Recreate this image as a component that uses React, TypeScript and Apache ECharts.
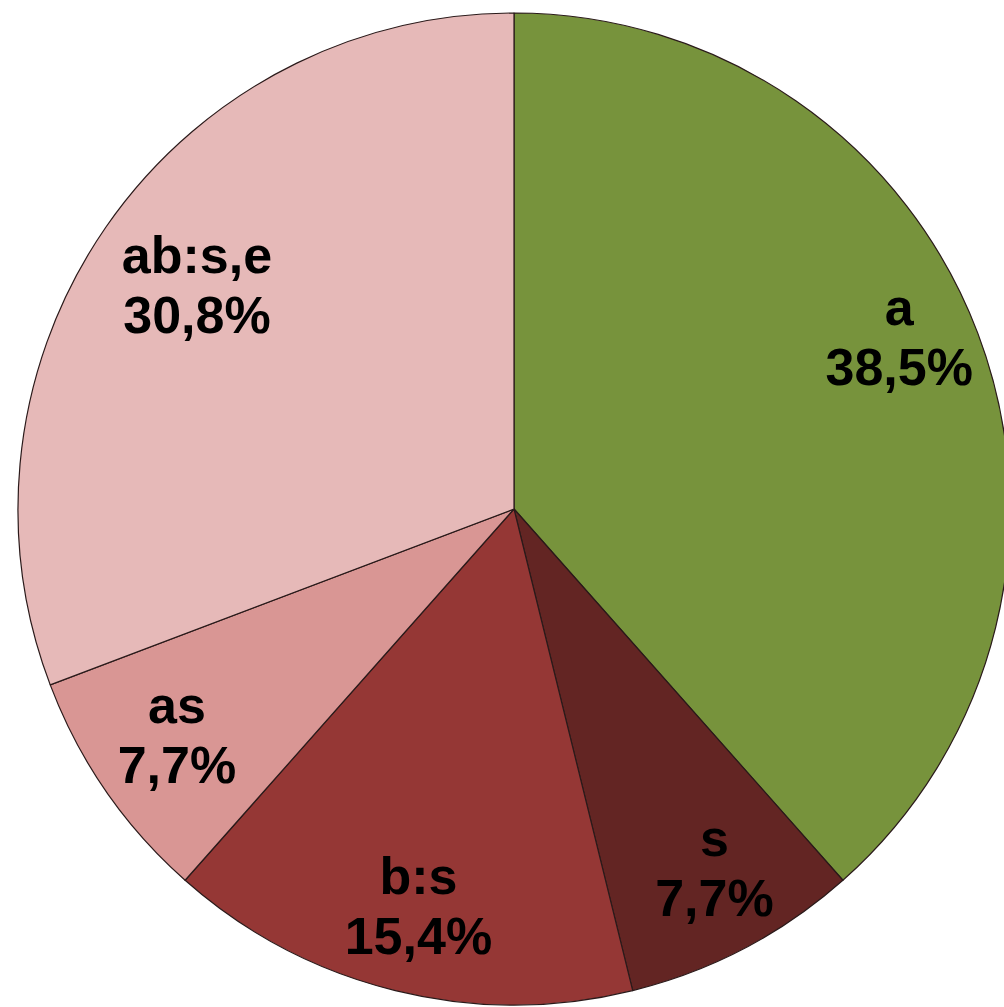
import React, { useEffect, useRef } from "react";
import * as echarts from "echarts";

const categories = ["a", "s", "b:s", "as", "ab:s,e"];
const values = [5, 1, 2, 1, 4];
const percentLabels = ["38,5%", "7,7%", "15,4%", "7,7%", "30,8%"];
const colors = ["#77933C", "#632523", "#953735", "#D99694", "#E6B9B8"];

export default function App() {
  const ref = useRef<HTMLDivElement>(null);
  useEffect(() => {
    document.body.style.margin = "0";
    const chart = echarts.init(ref.current!, null, { renderer: "svg" });
    const data = categories.map((name, i) => ({
      name,
      value: values[i],
      itemStyle: { color: colors[i] },
    }));
    const labelOffsets: Record<string, number[]> = {
      a: [0, -26],
      s: [9, -6],
      "b:s": [3, -3],
      as: [2, -8],
      "ab:s,e": [22, 10],
    };
    chart.setOption({
      animation: false,
      backgroundColor: "#ffffff",
      series: [
        {
          type: "pie",
          center: [514, 509],
          radius: [0, 496],
          startAngle: 90,
          clockwise: true,
          silent: true,
          label: { show: false },
          labelLine: { show: false },
          itemStyle: { borderColor: "#2a1a1a", borderWidth: 1.2 },
          data,
        },
        {
          type: "pie",
          center: [514, 509],
          radius: [322, 496],
          startAngle: 90,
          clockwise: true,
          silent: true,
          itemStyle: { color: "rgba(0,0,0,0)", borderWidth: 0 },
          labelLine: { show: false },
          label: {
            show: true,
            position: "inside",
            fontFamily: "'Liberation Sans', Arial, sans-serif",
            fontWeight: "bold",
            fontSize: 52,
            lineHeight: 60,
            color: "#000000",
            formatter: (p: any) => `${p.name}\n${percentLabels[p.dataIndex]}`,
          },
          data: categories.map((name, i) => ({
            name,
            value: values[i],
            label: { offset: labelOffsets[name] },
          })),
        },
      ],
    });
    return () => chart.dispose();
  }, []);
  return (
    <div
      ref={ref}
      style={{ position: "fixed", left: 0, top: 0, width: 1004, height: 1007 }}
    />
  );
}
